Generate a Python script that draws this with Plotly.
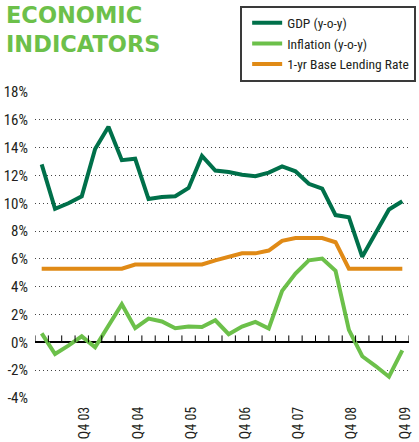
import plotly.graph_objects as go

quarters = [f"Q{q} {y:02d}" for y in range(3, 10) for q in range(1, 5)]
q4_labels = [q for q in quarters if q.startswith("Q4")]

gdp = [12.8, 9.6, 10.0, 10.5, 13.9, 15.5, 13.1, 13.2, 10.3, 10.45, 10.5, 11.1, 13.4, 12.35,
       12.25, 12.05, 11.95, 12.2, 12.65, 12.3, 11.4, 11.05, 9.15, 9.0, 6.15, 7.9, 9.55, 10.15]
inflation = [0.64, -0.84, -0.24, 0.43, -0.36, 1.2, 2.74, 1.02, 1.71, 1.5, 1.02, 1.14, 1.11, 1.59,
             0.59, 1.14, 1.47, 1.0, 3.7, 4.95, 5.9, 6.03, 5.14, 0.9, -1.0, -1.7, -2.47, -0.57]
lending = [5.3, 5.3, 5.3, 5.3, 5.3, 5.3, 5.3, 5.6, 5.6, 5.6, 5.6, 5.6, 5.6, 5.9,
           6.15, 6.4, 6.4, 6.6, 7.3, 7.5, 7.5, 7.5, 7.2, 5.3, 5.3, 5.3, 5.3, 5.3]

y_ticks = list(range(-4, 19, 2))
y_ticktext = [f"{v}%" for v in y_ticks]

series_names = ["GDP (y-o-y)", "Inflation (y-o-y)", "1-yr Base Lending Rate"]
colors = ["#00704a", "#6cc04a", "#e08a16"]
title_lines = ["ECONOMIC", "INDICATORS"]

COND = "Liberation Sans Narrow, Arial Narrow, Roboto Condensed, sans-serif"

fig = go.Figure()
for name, vals, col in zip(series_names, [gdp, inflation, lending], colors):
    fig.add_trace(go.Scatter(x=quarters, y=vals, name=name, mode="lines",
                             line=dict(color=col, width=4), hoverinfo="skip"))

ymin, ymax = -4, 18
plot_top, plot_bottom = 92, 400
plot_h = plot_bottom - plot_top
tick_len = 7 * (ymax - ymin) / plot_h  # 7 px expressed in data units

# small upward ticks on the zero line at every quarter boundary
tick_shapes = [
    dict(type="line", xref="x", yref="y", layer="above",
         x0=i - 0.5, x1=i - 0.5, y0=0, y1=tick_len, line=dict(color="#000000", width=1))
    for i in range(len(quarters) + 1)
]

def py(pix):
    return (plot_bottom - pix) / plot_h

fig.update_layout(
    width=419, height=442,
    margin=dict(l=35, r=3, t=plot_top, b=442 - plot_bottom),
    paper_bgcolor="white", plot_bgcolor="white",
    font=dict(family=COND, size=14, color="#231f20"),
    xaxis=dict(type="category", categoryarray=quarters, categoryorder="array",
               range=[-0.5, len(quarters) - 0.5],
               tickvals=q4_labels, ticktext=q4_labels, tickangle=-90,
               showgrid=False, showline=False, zeroline=False, ticks="",
               tickfont=dict(size=14, family=COND, color="#231f20"),
               ticklabelstandoff=5, ticklabelshift=3),
    yaxis=dict(range=[ymin, ymax], tickvals=y_ticks, ticktext=y_ticktext,
               showgrid=True, gridcolor="#444444", gridwidth=1, griddash="1px,3px",
               zeroline=True, zerolinecolor="#000000", zerolinewidth=1.5,
               showline=False, ticks="",
               tickfont=dict(size=15, family=COND, color="#231f20"),
               ticklabelstandoff=6),
    legend=dict(x=(244 - 35) / 381, xanchor="left", y=py(5), yanchor="top",
                bordercolor="#3a3a3a", borderwidth=2, bgcolor="white",
                font=dict(family=COND, size=13.5, color="#231f20"),
                indentation=5, tracegroupgap=0),
    showlegend=True,
    shapes=tick_shapes,
    annotations=[
        dict(text="<br>".join(title_lines), x=(4 - 35) / 381, y=py(0), xref="paper", yref="paper",
             xanchor="left", yanchor="top", align="left", showarrow=False, borderpad=0,
             font=dict(family="DejaVu Sans", size=22.5, color="#6cc04a", weight="bold")),
    ],
)

fig.write_html("out.html", config={"displayModeBar": False},
               post_script="document.body.style.margin='0';document.body.style.overflow='hidden';")
